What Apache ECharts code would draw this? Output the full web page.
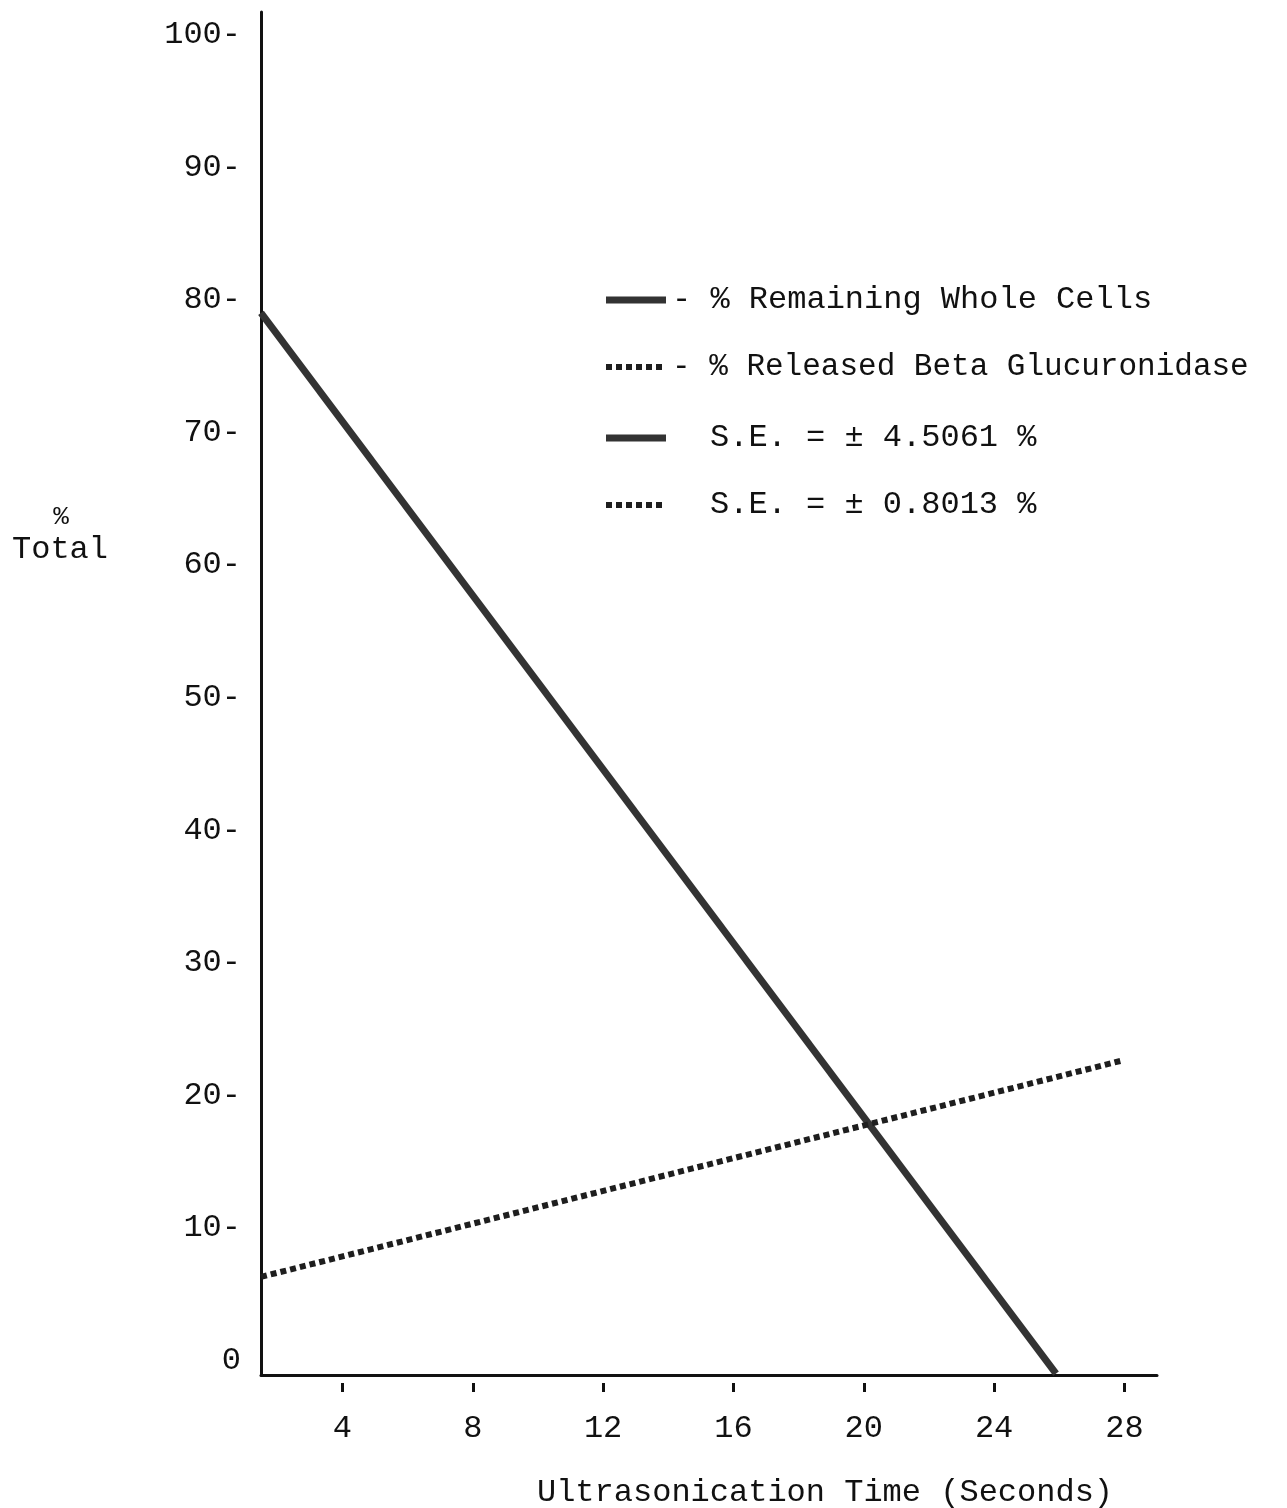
<!DOCTYPE html>
<html>
<head>
<meta charset="utf-8">
<script src="https://cdn.jsdelivr.net/npm/echarts@6/dist/echarts.min.js"></script>
<style>
html,body{margin:0;padding:0;background:#fff;}
#chart{width:1287px;height:1508px;}
</style>
</head>
<body>
<div id="chart"></div>
<script>
// ---- data ----
const xTicks = [4, 8, 12, 16, 20, 24, 28];
const yTicks = [0, 10, 20, 30, 40, 50, 60, 70, 80, 90, 100];
const wholeCellsX = [1.5, 25.9];
const wholeCellsY = [79.0, -1.0];
const betaX = [1.5, 27.9];
const betaY = [6.3, 22.6];
const seriesNames = ['% Remaining Whole Cells', '% Released Beta Glucuronidase'];
const seLabels = ['S.E. = \u00b1 4.5061 %', 'S.E. = \u00b1 0.8013 %'];
const xTitle = 'Ultrasonication Time (Seconds)';
const yTitle = ['%', 'Total'];

const FONT = '"Liberation Mono", "DejaVu Sans Mono", monospace';
const FS = 32;
const solidStyle = {color: '#333333', width: 7, type: 'solid'};
const dotStyle = {color: '#1e1e1e', width: 6, type: [6, 4]};

const chart = echarts.init(document.getElementById('chart'));

function legendRow(y, style, text, tx, fs) {
  return [
    {type: 'line', shape: {x1: 606, y1: y, x2: 666, y2: y},
     style: {stroke: style.color, lineWidth: style.width, lineDash: style.type === 'solid' ? null : style.type}},
    {type: 'text', x: tx, y: y, style: {text: text, font: (fs || FS) + 'px ' + FONT, fill: '#111',
      verticalAlign: 'middle', textAlign: 'left'}}
  ];
}

const graphics = [].concat(
  legendRow(300, solidStyle, '- ' + seriesNames[0], 672),
  legendRow(367, dotStyle, '- ' + seriesNames[1], 672, 31),
  legendRow(438, solidStyle, seLabels[0], 710),
  legendRow(505, dotStyle, seLabels[1], 710),
  [
    {type: 'text', x: 61, y: 517, style: {text: yTitle[0], font: '26px ' + FONT, fill: '#111', textAlign: 'center', verticalAlign: 'middle'}},
    {type: 'text', x: 60, y: 550, style: {text: yTitle[1], font: FS + 'px ' + FONT, fill: '#111', textAlign: 'center', verticalAlign: 'middle'}},
    {type: 'text', x: 825, y: 1493, style: {text: xTitle, font: FS + 'px ' + FONT, fill: '#111', textAlign: 'center', verticalAlign: 'middle'}}
  ]
);

const option = {
  backgroundColor: '#ffffff',
  animation: false,
  grid: {left: 261, right: 130, top: 12, bottom: 133},
  xAxis: [
    {
      type: 'value', min: 1.5, max: 29, position: 'bottom',
      axisLine: {show: true, onZero: false, lineStyle: {color: '#111', width: 3}},
      axisTick: {show: false},
      splitLine: {show: false},
      axisLabel: {show: true, customValues: xTicks, margin: 38,
        fontFamily: FONT, fontSize: FS, color: '#111'}
    },
    {
      type: 'value', min: 1.5, max: 29, position: 'bottom', offset: 8,
      axisLine: {show: false, onZero: false},
      axisTick: {show: true, customValues: xTicks, length: 9, lineStyle: {color: '#111', width: 3}},
      splitLine: {show: false},
      axisLabel: {show: false}
    }
  ],
  yAxis: {
    type: 'value', min: -1.1, max: 101.7,
    axisLine: {show: true, onZero: false, lineStyle: {color: '#111', width: 3}},
    axisTick: {show: false},
    splitLine: {show: false},
    axisLabel: {show: true, customValues: yTicks, margin: 20,
      fontFamily: FONT, fontSize: FS, color: '#111',
      formatter: v => v === 0 ? '0' : v + '-'}
  },
  series: [
    {
      name: seriesNames[0], type: 'line', xAxisIndex: 0,
      data: wholeCellsX.map((x, i) => [x, wholeCellsY[i]]),
      symbol: 'none', lineStyle: solidStyle, clip: true
    },
    {
      name: seriesNames[1], type: 'line', xAxisIndex: 0,
      data: betaX.map((x, i) => [x, betaY[i]]),
      symbol: 'none', lineStyle: dotStyle, clip: true
    }
  ],
  graphic: graphics
};
chart.setOption(option);
</script>
</body>
</html>
